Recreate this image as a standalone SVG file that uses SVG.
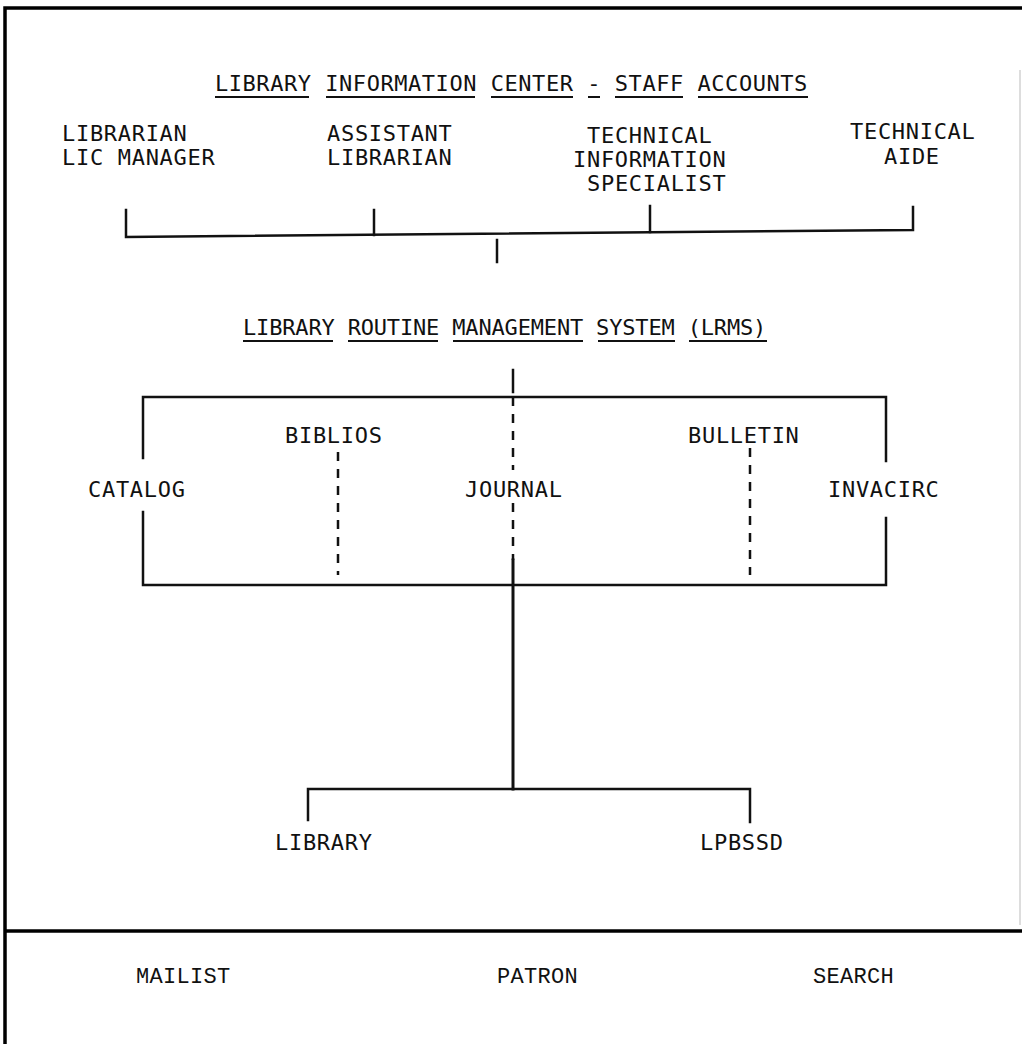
<svg xmlns="http://www.w3.org/2000/svg" width="1022" height="1044" viewBox="0 0 1022 1044">
<style>
text{font-family:"DejaVu Sans Mono","Liberation Mono",monospace;font-size:22px;letter-spacing:0.7px;fill:#111;}
.ln{stroke:#111;stroke-width:2.5;fill:none;stroke-linecap:square;}
.frame{stroke:#000;stroke-width:3.5;fill:none;}
.dash{stroke:#111;stroke-width:2.5;fill:none;stroke-dasharray:9 8;}
.ul{stroke:#111;stroke-width:2;}
.thin{font-family:"Liberation Mono",monospace;font-size:22px;letter-spacing:0.3px;}
</style>
<rect width="1022" height="1044" fill="#fff"/>
<g id="frame">
<polyline class="frame" points="5,1044 5,8 1022,8"/>
<line class="frame" x1="5" y1="931" x2="1022" y2="931"/>
<line x1="1020" y1="70" x2="1020" y2="925" stroke="#bbb" stroke-width="1"/>
</g>
<g id="connectors">
<polyline class="ln" points="126,210 126,237 913,230 913,207"/>
<line class="ln" x1="374" y1="210" x2="374" y2="235"/>
<line class="ln" x1="650" y1="206" x2="650" y2="232"/>
<line class="ln" x1="497" y1="240" x2="497" y2="262"/>
<line class="ln" x1="513" y1="370" x2="513" y2="392"/>
<line class="dash" x1="513" y1="397" x2="513" y2="470"/>
<line class="dash" x1="513" y1="503" x2="513" y2="560"/>
<line class="ln" x1="513" y1="560" x2="513" y2="789" style="stroke-width:3"/>
<polyline class="ln" points="143,458 143,397 886,397 886,461"/>
<polyline class="ln" points="143,512 143,585 886,585 886,518"/>
<line class="dash" x1="338" y1="452" x2="338" y2="575"/>
<line class="dash" x1="750" y1="448" x2="750" y2="575"/>
<polyline class="ln" points="308,820 308,789 750,789 750,822"/>
</g>
<g id="title-lic">
<text x="215" y="91" textLength="593" lengthAdjust="spacing">LIBRARY INFORMATION CENTER - STAFF ACCOUNTS</text>
<line class="ul" x1="215" y1="97" x2="309" y2="97"/>
<line class="ul" x1="326" y1="97" x2="475" y2="97"/>
<line class="ul" x1="491" y1="97" x2="573" y2="97"/>
<line class="ul" x1="588" y1="97" x2="600" y2="97"/>
<line class="ul" x1="615" y1="97" x2="683" y2="97"/>
<line class="ul" x1="698" y1="97" x2="808" y2="97"/>
</g>
<g id="node-librarian"><text x="62" y="141">LIBRARIAN</text><text x="62" y="165">LIC MANAGER</text></g>
<g id="node-assistant"><text x="327" y="141">ASSISTANT</text><text x="327" y="165">LIBRARIAN</text></g>
<g id="node-tis"><text x="587" y="143">TECHNICAL</text><text x="573" y="167">INFORMATION</text><text x="587" y="191">SPECIALIST</text></g>
<g id="node-aide"><text x="850" y="139">TECHNICAL</text><text x="884" y="164">AIDE</text></g>
<g id="title-lrms">
<text x="243" y="335" textLength="524" lengthAdjust="spacing">LIBRARY ROUTINE MANAGEMENT SYSTEM (LRMS)</text>
<line class="ul" x1="243" y1="341" x2="333" y2="341"/>
<line class="ul" x1="348" y1="341" x2="438" y2="341"/>
<line class="ul" x1="453" y1="341" x2="583" y2="341"/>
<line class="ul" x1="598" y1="341" x2="675" y2="341"/>
<line class="ul" x1="689" y1="341" x2="767" y2="341"/>
</g>
<g id="node-catalog"><text x="88" y="497">CATALOG</text></g>
<g id="node-biblios"><text x="285" y="443">BIBLIOS</text></g>
<g id="node-journal"><text x="465" y="497">JOURNAL</text></g>
<g id="node-bulletin"><text x="688" y="443">BULLETIN</text></g>
<g id="node-invacirc"><text x="828" y="497">INVACIRC</text></g>
<g id="node-library"><text x="275" y="850">LIBRARY</text></g>
<g id="node-lpbssd"><text x="700" y="850">LPBSSD</text></g>
<g id="node-mailist"><text class="thin" x="136" y="983">MAILIST</text></g>
<g id="node-patron"><text class="thin" x="497" y="983">PATRON</text></g>
<g id="node-search"><text class="thin" x="813" y="983">SEARCH</text></g>
</svg>
